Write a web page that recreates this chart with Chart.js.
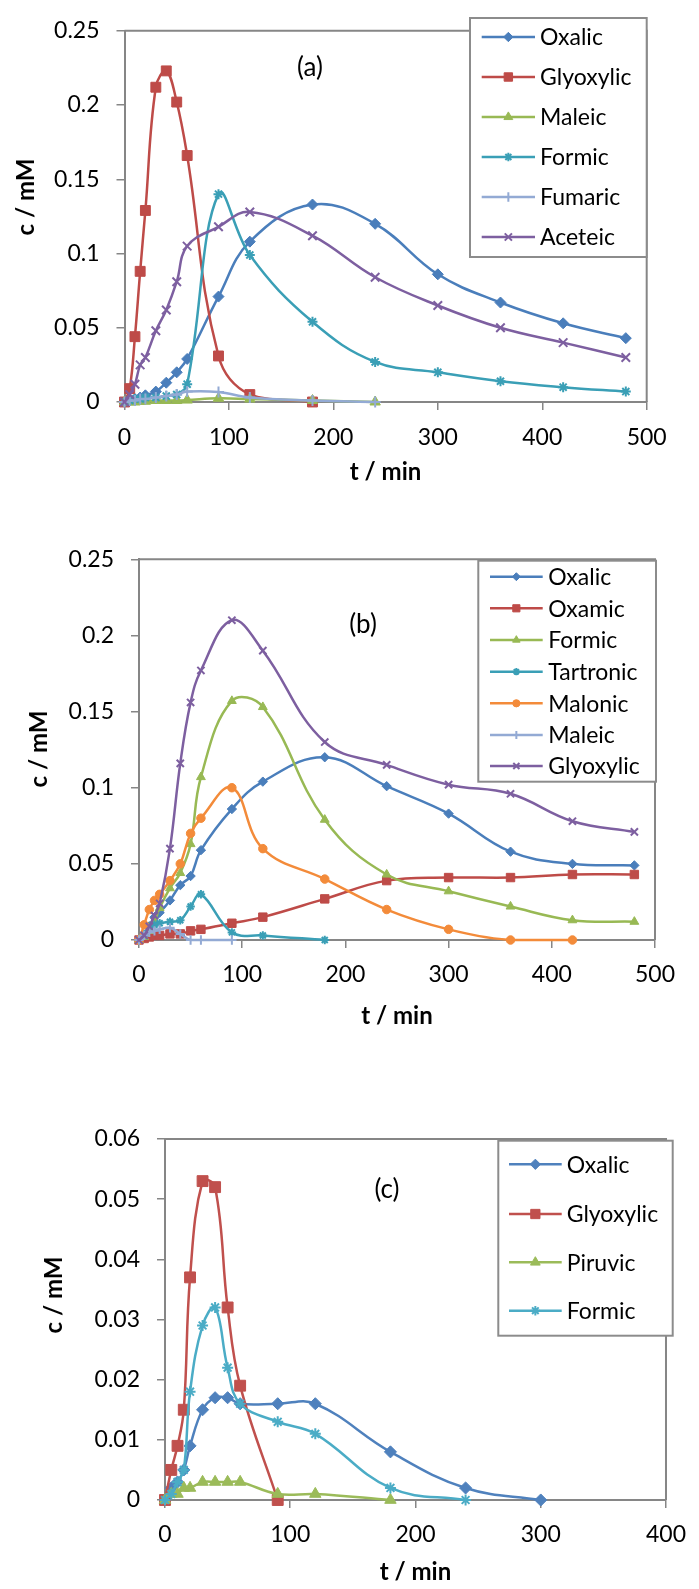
<!DOCTYPE html>
<html>
<head>
<meta charset="utf-8">
<script src="https://cdn.jsdelivr.net/npm/chart.js@4.4.1/dist/chart.umd.min.js"></script>
<style>
  html, body { margin: 0; padding: 0; background: #fff; }
  body { width: 699px; height: 1589px; position: relative; overflow: hidden; }
  canvas { position: absolute; left: 0; }
</style>
</head>
<body>
<canvas id="chartA" width="699" height="520" style="top:0"></canvas>
<canvas id="chartB" width="699" height="540" style="top:520px"></canvas>
<canvas id="chartC" width="699" height="529" style="top:1060px"></canvas>
<script>
// ---- panel (a) ----
const timeA = [0, 5, 10, 15, 20, 30, 40, 50, 60, 90, 120, 180, 240, 300, 360, 420, 480];
const oxalicA = [0, 0.001, 0.002, 0.003, 0.0045, 0.007, 0.013, 0.02, 0.029, 0.071, 0.108, 0.133, 0.12, 0.086, 0.067, 0.053, 0.043];
const glyoxylicA = [0, 0.009, 0.044, 0.088, 0.129, 0.212, 0.223, 0.202, 0.166, 0.031, 0.005, 0];
const maleicA = [0, 0, 0, 0.0005, 0.0005, 0.001, 0.001, 0.001, 0.0013, 0.0025, 0.002, 0.001, 0];
const formicA = [0, 0.001, 0.002, 0.002, 0.003, 0.003, 0.004, 0.005, 0.012, 0.14, 0.099, 0.054, 0.027, 0.02, 0.014, 0.01, 0.007];
const fumaricA = [0, 0.001, 0.001, 0.002, 0.002, 0.003, 0.004, 0.005, 0.007, 0.0067, 0.003, 0.001, 0];
const aceteicA = [0, 0.005, 0.012, 0.025, 0.03, 0.048, 0.062, 0.081, 0.105, 0.118, 0.128, 0.112, 0.084, 0.065, 0.05, 0.04, 0.03];
const xTicksA = ['0', '100', '200', '300', '400', '500'];
const yTicksA = ['0', '0.05', '0.1', '0.15', '0.2', '0.25'];

// ---- panel (b) ----
const timeB = [0, 5, 10, 15, 20, 30, 40, 50, 60, 90, 120, 180, 240, 300, 360, 420, 480];
const oxalicB = [0, 0.003, 0.009, 0.015, 0.018, 0.026, 0.036, 0.042, 0.059, 0.086, 0.104, 0.12, 0.101, 0.083, 0.058, 0.05, 0.049];
const oxamicB = [0, 0.001, 0.002, 0.003, 0.003, 0.004, 0.004, 0.006, 0.007, 0.011, 0.015, 0.027, 0.039, 0.041, 0.041, 0.043, 0.043];
const formicB = [0, 0.002, 0.006, 0.012, 0.021, 0.034, 0.044, 0.063, 0.107, 0.157, 0.153, 0.079, 0.043, 0.032, 0.022, 0.013, 0.012];
const tartronicB = [0, 0.004, 0.009, 0.01, 0.011, 0.012, 0.013, 0.022, 0.03, 0.005, 0.003, 0];
const malonicB = [0, 0.01, 0.02, 0.026, 0.03, 0.039, 0.05, 0.07, 0.08, 0.1, 0.06, 0.04, 0.02, 0.007, 0, 0];
const maleicB = [0, 0.003, 0.005, 0.006, 0.007, 0.008, 0.004, 0, 0, 0];
const glyoxylicB = [0, 0.003, 0.009, 0.016, 0.024, 0.06, 0.116, 0.156, 0.177, 0.21, 0.19, 0.13, 0.115, 0.102, 0.096, 0.078, 0.071];
const xTicksB = ['0', '100', '200', '300', '400', '500'];
const yTicksB = ['0', '0.05', '0.1', '0.15', '0.2', '0.25'];

// ---- panel (c) ----
const timeC = [0, 5, 10, 15, 20, 30, 40, 50, 60, 90, 120, 180, 240, 300];
const oxalicC = [0, 0.002, 0.003, 0.005, 0.009, 0.015, 0.017, 0.017, 0.016, 0.016, 0.016, 0.008, 0.002, 0];
const glyoxylicC = [0, 0.005, 0.009, 0.015, 0.037, 0.053, 0.052, 0.032, 0.019, 0];
const piruvicC = [0, 0.001, 0.001, 0.002, 0.002, 0.003, 0.003, 0.003, 0.003, 0.001, 0.001, 0];
const formicC = [0, 0.001, 0.003, 0.005, 0.018, 0.029, 0.032, 0.022, 0.016, 0.013, 0.011, 0.002, 0];
const xTicksC = ['0', '100', '200', '300', '400'];
const yTicksC = ['0', '0.01', '0.02', '0.03', '0.04', '0.05', '0.06'];

const colors = {
    blue: '#4A7EBB',
    red: '#BE4B48',
    green: '#98B954',
    teal: '#3A9FB6',
    lightBlue: '#93AAD4',
    purple: '#7D5FA0',
    orange: '#F38B3A',
    axis: '#868686',
    text: '#000'
};

// marker look per symbol (Excel style)
const markers = {
    diamond: { pointStyle: 'rectRot', radius: 5.5, width: 1 },
    square: { pointStyle: 'rect', radius: 7, width: 1 },
    triangle: { pointStyle: 'triangle', radius: 6, width: 1 },
    star: { pointStyle: 'star', radius: 5, width: 2 },
    plus: { pointStyle: 'cross', radius: 5.5, width: 2 },
    ex: { pointStyle: 'crossRot', radius: 6, width: 2 },
    circle: { pointStyle: 'circle', radius: 5, width: 1 }
};

Chart.defaults.font.family = 'Lato';
Chart.defaults.color = colors.text;

function series(label, times, values, color, marker, scale, idx, total) {
    const m = markers[marker];
    return {
        label: label,
        data: values.map((v, i) => ({ x: times[i], y: v })),
        borderColor: color,
        backgroundColor: color,
        borderWidth: 2.5,
        tension: 0.4,
        pointStyle: m.pointStyle,
        pointRadius: m.radius * scale,
        pointBackgroundColor: color,
        pointBorderColor: color,
        pointBorderWidth: m.width,
        clip: false,
        order: total - idx
    };
}

// frame, y title, legend box and panel tag
const decorPlugin = {
    id: 'decor',
    beforeDatasetsDraw(chart, args, opts) {
        const { ctx, chartArea: a } = chart;
        ctx.save();
        ctx.strokeStyle = colors.axis;
        ctx.lineWidth = 2;
        ctx.beginPath();
        ctx.moveTo(a.left, a.top);
        ctx.lineTo(a.right, a.top);
        ctx.lineTo(a.right, a.bottom);
        ctx.stroke();
        // y axis title, placed where Excel put it
        ctx.translate(opts.yTitle.x, opts.yTitle.y);
        ctx.rotate(-Math.PI / 2);
        ctx.font = 'bold 24px Lato';
        ctx.fillStyle = colors.text;
        ctx.textAlign = 'center';
        ctx.textBaseline = 'middle';
        ctx.fillText('c / mM', 0, 0);
        ctx.restore();
    },
    afterDraw(chart, args, opts) {
        const { ctx } = chart;
        const lg = opts.legend;
        ctx.save();
        ctx.fillStyle = '#fff';
        ctx.fillRect(lg.x, lg.y, lg.w, lg.h);
        ctx.strokeStyle = '#8c8c8c';
        ctx.lineWidth = 2;
        ctx.strokeRect(lg.x, lg.y, lg.w, lg.h);
        ctx.font = '23px Lato';
        ctx.textBaseline = 'middle';
        ctx.textAlign = 'left';
        chart.data.datasets.forEach((ds, i) => {
            const y = lg.rows[i];
            ctx.strokeStyle = ds.borderColor;
            ctx.lineWidth = 2.5;
            ctx.beginPath();
            ctx.moveTo(lg.line[0], y);
            ctx.lineTo(lg.line[1], y);
            ctx.stroke();
            ctx.fillStyle = ds.pointBackgroundColor;
            ctx.strokeStyle = ds.pointBorderColor;
            ctx.lineWidth = ds.pointBorderWidth;
            Chart.helpers.drawPoint(ctx, {
                pointStyle: ds.pointStyle,
                radius: ds.pointRadius * 0.85,
                rotation: 0,
                borderWidth: ds.pointBorderWidth
            }, (lg.line[0] + lg.line[1]) / 2, y);
            ctx.fillStyle = colors.text;
            ctx.fillText(ds.label, lg.textX, y + 1);
        });
        ctx.font = '26px Lato';
        ctx.textAlign = 'center';
        ctx.fillText(opts.tag.text, opts.tag.x, opts.tag.y);
        ctx.restore();
    }
};

function makeChart(id, p) {
    return new Chart(document.getElementById(id), {
        type: 'line',
        data: { datasets: p.datasets },
        options: {
            responsive: false,
            animation: false,
            events: [],
            layout: { padding: { top: p.top, right: p.right, left: 0, bottom: 0 } },
            plugins: {
                legend: { display: false },
                tooltip: { enabled: false },
                decor: { legend: p.legend, tag: p.tag, yTitle: p.yTitle }
            },
            elements: { line: { capBezierPoints: true } },
            scales: {
                x: {
                    type: 'linear',
                    min: 0,
                    max: p.xMax,
                    afterFit: s => { s.height = p.xHeight; },
                    ticks: {
                        stepSize: 100,
                        autoSkip: false,
                        maxRotation: 0,
                        padding: p.xLabelPad,
                        color: colors.text,
                        font: { size: 23 },
                        callback: (v, i) => p.xTicks[i]
                    },
                    grid: { drawOnChartArea: false, drawTicks: true, tickLength: 8, color: colors.axis, lineWidth: 1.5 },
                    border: { color: colors.axis, width: 2 },
                    title: {
                        display: true,
                        text: 't / min',
                        color: colors.text,
                        font: { size: 24, weight: 'bold' },
                        padding: { top: 0, bottom: p.xTitlePad }
                    }
                },
                y: {
                    type: 'linear',
                    min: 0,
                    max: p.yMax,
                    afterFit: s => { s.width = p.yWidth; },
                    ticks: {
                        stepSize: p.yStep,
                        autoSkip: false,
                        padding: 17,
                        color: colors.text,
                        font: { size: 23 },
                        callback: (v, i) => p.yTicks[i]
                    },
                    grid: { drawOnChartArea: false, drawTicks: true, tickLength: 8, color: colors.axis, lineWidth: 1.5 },
                    border: { color: colors.axis, width: 2 }
                }
            }
        },
        plugins: [decorPlugin]
    });
}

const dsA = [
    ['Oxalic', timeA, oxalicA, colors.blue, 'diamond'],
    ['Glyoxylic', timeA, glyoxylicA, colors.red, 'square'],
    ['Maleic', timeA, maleicA, colors.green, 'triangle'],
    ['Formic', timeA, formicA, colors.teal, 'star'],
    ['Fumaric', timeA, fumaricA, colors.lightBlue, 'plus'],
    ['Aceteic', timeA, aceteicA, colors.purple, 'ex']
].map((s, i, all) => series(s[0], s[1], s[2], s[3], s[4], 1, i, all.length));

const dsB = [
    ['Oxalic', timeB, oxalicB, colors.blue, 'diamond'],
    ['Oxamic', timeB, oxamicB, colors.red, 'square'],
    ['Formic', timeB, formicB, colors.green, 'triangle'],
    ['Tartronic', timeB, tartronicB, colors.teal, 'star'],
    ['Malonic', timeB, malonicB, colors.orange, 'circle'],
    ['Maleic', timeB, maleicB, colors.lightBlue, 'plus'],
    ['Glyoxylic', timeB, glyoxylicB, colors.purple, 'ex']
].map((s, i, all) => series(s[0], s[1], s[2], s[3], s[4], 0.85, i, all.length));

const dsC = [
    ['Oxalic', timeC, oxalicC, '#4F81BD', 'diamond'],
    ['Glyoxylic', timeC, glyoxylicC, '#C0504D', 'square'],
    ['Piruvic', timeC, piruvicC, '#9BBB59', 'triangle'],
    ['Formic', timeC, formicC, '#4BACC6', 'star']
].map((s, i, all) => series(s[0], s[1], s[2], s[3], s[4], 1.1, i, all.length));

makeChart('chartA', {
    datasets: dsA, top: 15.7, right: 52.3, yWidth: 124.5, xHeight: 118,
    xMax: 500, yMax: 0.25, yStep: 0.05, xTicks: xTicksA, yTicks: yTicksA,
    xLabelPad: 14, xTitlePad: 33.6, yTitle: { x: 26, y: 197 },
    legend: { x: 470, y: 18, w: 176.7, h: 239, line: [481.7, 535], textX: 540, rows: [37, 77, 117, 157, 197, 237] },
    tag: { text: '(a)', x: 310, y: 68 }
});

makeChart('chartB', {
    datasets: dsB, top: 39.3, right: 44, yWidth: 139, xHeight: 120,
    xMax: 500, yMax: 0.25, yStep: 0.05, xTicks: xTicksB, yTicks: yTicksB,
    xLabelPad: 13, xTitlePad: 29.6, yTitle: { x: 39, y: 229 },
    legend: { x: 478.3, y: 40.7, w: 177.7, h: 221, line: [490, 542.7], textX: 548.3,
              rows: [56.7, 88.3, 120, 151.7, 183.3, 215, 246] },
    tag: { text: '(b)', x: 363, y: 105 }
});

makeChart('chartC', {
    datasets: dsC, top: 79, right: 24.7, yWidth: 165, xHeight: 89,
    xMax: 400, yMax: 0.06, yStep: 0.01, xTicks: xTicksC, yTicks: yTicksC,
    xLabelPad: 13, xTitlePad: 2.6, yTitle: { x: 54, y: 235 },
    legend: { x: 498.3, y: 80.7, w: 174.4, h: 195, line: [509, 561.7], textX: 566.7,
              rows: [104.3, 154, 202.3, 250.7] },
    tag: { text: '(c)', x: 387, y: 130 }
});
</script>
</body>
</html>
